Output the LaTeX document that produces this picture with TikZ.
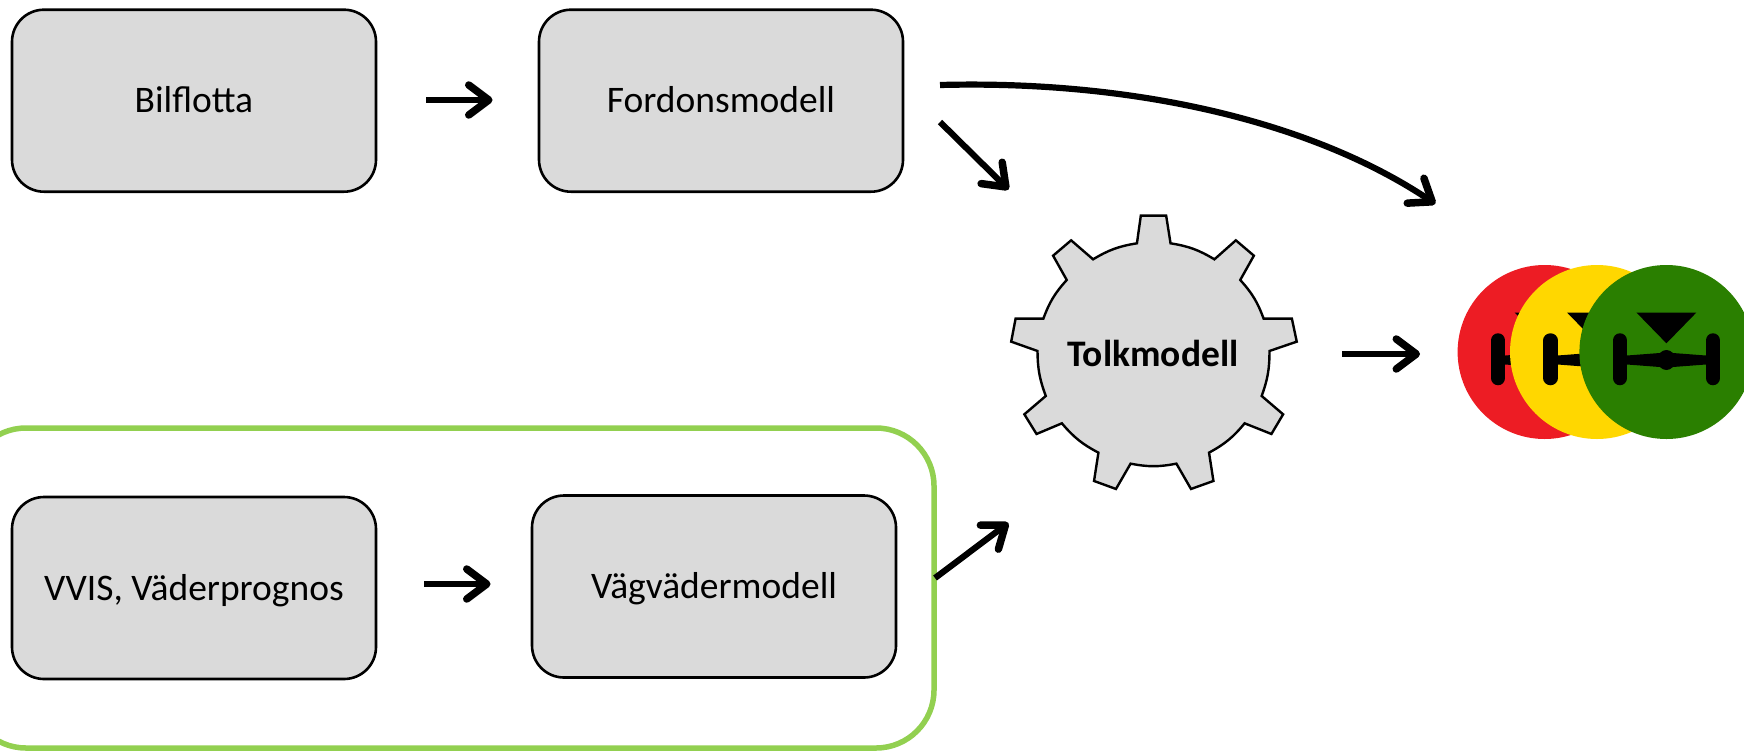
\documentclass[tikz,border=0pt]{standalone}
\usepackage{fontspec}
\setmainfont{Carlito}
\usetikzlibrary{arrows.meta}
\definecolor{boxgrey}{HTML}{DADADA}
\definecolor{framegreen}{HTML}{92D050}
\definecolor{lred}{HTML}{ED1C24}
\definecolor{lyellow}{HTML}{FFD700}
\definecolor{lgreen}{HTML}{2A7F00}
\tikzset{
  modelbox/.style={draw=black,fill=boxgrey,line width=2.6pt,rounded corners=32pt,minimum width=364pt,minimum height=182pt,inner sep=0pt,text height=30pt,text depth=6pt,font=\fontsize{37.5}{44}\selectfont},
  flow/.style={line width=6.2pt,draw=black,-{Straight Barb[length=20pt,width=30pt,round,line width=7.5pt]},shorten >=2pt},
  lamp/.style={circle,inner sep=0pt,minimum size=174pt},
}
\newcommand{\axleicon}[1]{%
  \begin{scope}[shift={(#1)}]
    \fill[black] (-30,-39.5) -- (30,-39.5) -- (0,-8.7) -- cycle;
    \fill[black] (-46,4) -- (0,0.5) -- (46,4) -- (46,12) -- (0,15.5) -- (-46,12) -- cycle;
    \draw[black,line width=14.5pt,line cap=round] (-46.5,-11.5) -- (-46.5,26) (46.5,-11.5) -- (46.5,26);
    \fill[black] (0,8) ellipse (9pt and 10pt);
  \end{scope}}
\begin{document}
\begin{tikzpicture}[x=1pt,y=-1pt]
\useasboundingbox (0,0) rectangle (1744,750);
\node[draw=framegreen,line width=5.5pt,rounded corners=58pt,minimum width=966pt,minimum height=320pt,inner sep=0pt] (frame) at (451,588) {};
\node[modelbox] (bil) at (194,100.7) {Bilflotta};
\node[modelbox] (ford) at (721,100.7) {Fordonsmodell};
\node[modelbox] (vvis) at (194,588) {VVIS, Väderprognos};
\node[modelbox] (vag) at (714,586.5) {Vägvädermodell};
% gear
\begin{scope}[shift={(980,180)},x=0.4873pt,y=-0.3333pt]
\draw[fill=boxgrey,line width=2.4pt,line join=miter]
 (330,107) -- (382,107) -- (391,190) to[bend left=11] (481,238)
 -- (525,181) -- (562,227) -- (534,300) to[bend left=11] (582,416)
 -- (640,416) -- (650,485) -- (594,513) to[bend left=10] (578,648)
 -- (622,703) -- (598,762) -- (543,730) to[bend left=11] (470,818)
 -- (479,903) -- (433,927) -- (403,851) to[bend left=11] (309,851)
 -- (279,927) -- (234,903) -- (243,818) to[bend left=11] (168,730)
 -- (116,762) -- (91,703) -- (135,648) to[bend left=10] (118,513)
 -- (64,485) -- (73,416) -- (130,416) to[bend left=11] (178,300)
 -- (150,227) -- (187,181) -- (232,238) to[bend left=11] (322,190) -- cycle;
\end{scope}
\node[font=\fontsize{37.5}{44}\selectfont\bfseries,inner sep=0pt] (tolk) at (1153,353) {Tolkmodell};
% lamps
\node[lamp,fill=lred] (r) at (1544.6,352) {};
\axleicon{r}
\node[lamp,fill=lyellow] (y) at (1597,352) {};
\axleicon{y}
\node[lamp,fill=lgreen] (g) at (1666.4,352) {};
\axleicon{g}
% free ends of connectors
\coordinate (a1s) at (426,100);
\coordinate (a1e) at (494.5,100);
\coordinate (a2s) at (424,584);
\coordinate (a2e) at (492.5,584);
\coordinate (a3s) at (940,122);
\coordinate (a3e) at (1010,191);
\coordinate (a4s) at (940,85);
\coordinate (a4e) at (1437,205);
\coordinate (a5s) at (1342,354);
\coordinate (a5e) at (1422,354);
\coordinate (a6s) at (935,578);
\coordinate (a6e) at (1010,521.7);
\draw[flow] (a1s) -- (a1e);
\draw[flow] (a2s) -- (a2e);
\draw[flow] (a3s) -- (a3e);
\draw[flow] (a4s) .. controls (1130,80) and (1310,120) .. (a4e);
\draw[flow] (a5s) -- (a5e);
\draw[flow] (a6s) -- (a6e);
\end{tikzpicture}
\end{document}
